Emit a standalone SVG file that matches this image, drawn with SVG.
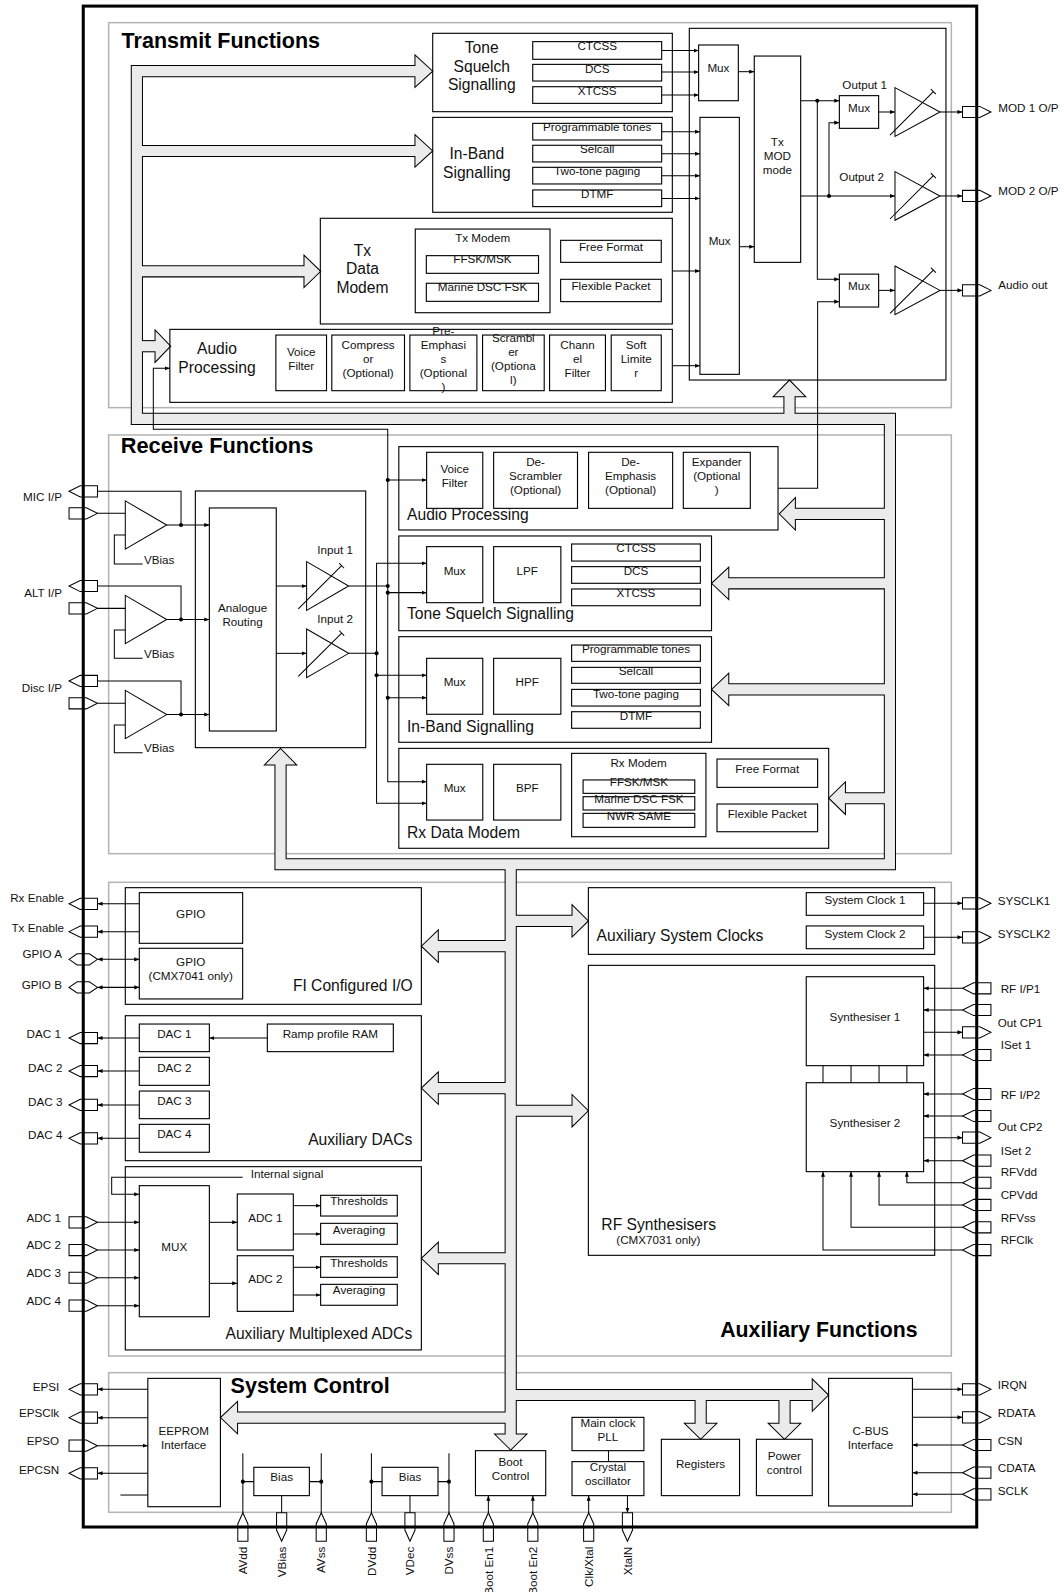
<svg xmlns="http://www.w3.org/2000/svg" width="1064" height="1592" viewBox="0 0 1064 1592">
<defs>
<style>
.sec{fill:none;stroke:#b4b4b4;stroke-width:1.5}
.bx{fill:none;stroke:#000;stroke-width:1.1}
.ln{fill:none;stroke:#000;stroke-width:1}
.ar{marker-end:url(#a)}
.ar2{marker-start:url(#a);marker-end:url(#a)}
.pin{fill:#fff;stroke:#000;stroke-width:1}
.amp{fill:#fff;stroke:#000;stroke-width:1}
.pk{fill:none;stroke:#000;stroke-width:12}
.pg{fill:none;stroke:#ebebeb;stroke-width:10}
.ph{fill:#ebebeb;stroke:#000;stroke-width:1}
.dot{fill:#000}
text{font-family:"Liberation Sans",Arial,Helvetica,sans-serif;font-size:11.5px;fill:#111}
.c{text-anchor:middle}
.e{text-anchor:end}
.L{font-size:15.4px}
.T{font-size:21px;font-weight:bold;fill:#000}
</style>
<marker id="a" viewBox="0 0 10 10" refX="10" refY="5" markerWidth="5" markerHeight="5" markerUnits="userSpaceOnUse" orient="auto-start-reverse"><path d="M0,1L10,5L0,9z" fill="#000"/></marker>
<path id="pR" d="M-14,-5.5H3L14,0L3,5.5H-14Z"/>
<path id="pL" d="M14,-5.5H-3L-14,0L-3,5.5H14Z"/>
<path id="pB" d="M-14,0L-6,-5.5H6L14,0L6,5.5H-6Z"/>
<path id="pU" d="M0,-14L5,-3V14H-5V-3Z"/>
<path id="pD" d="M-5,-14H5V3L0,14L-5,3Z"/>
</defs>
<rect width="1064" height="1592" fill="#fff"/>
<g transform="scale(1.0153)">

<g id="sections">
<rect class="sec" x="107" y="22.3" width="830" height="379.2"/>
<rect class="sec" x="107" y="428.4" width="830" height="412.4"/>
<rect class="sec" x="107" y="869" width="830" height="466.6"/>
<rect class="sec" x="107" y="1352" width="830" height="137.5"/>
<text class="T" x="119.8" y="47.6" textLength="195.4" lengthAdjust="spacingAndGlyphs">Transmit Functions</text>
<text class="T" x="118.9" y="445.9" textLength="189.7" lengthAdjust="spacingAndGlyphs">Receive Functions</text>
<text class="T" x="709.4" y="1316.5" textLength="194.4" lengthAdjust="spacingAndGlyphs">Auxiliary Functions</text>
<text class="T" x="227.1" y="1372.3" textLength="156.8" lengthAdjust="spacingAndGlyphs">System Control</text>
</g>

<g id="bus">
<g class="pk">
<path d="M408.7,70.1H134.8V412.5H876.5V851.2H276.3V753.5"/>
<path d="M134.8,148.7H408.7"/><path d="M134.8,267.2H299.4"/><path d="M134.8,341H152.7"/>
<path d="M777.6,412.5V390.7"/>
<path d="M876.5,506.1H783.4"/><path d="M876.5,574.5H717.8"/><path d="M876.5,679H717.8"/><path d="M876.5,786.2H832.7"/>
<path d="M503,851.2V1412.4"/>
<path d="M503,931.9H431.7"/><path d="M503,1071.7H431.7"/><path d="M503,1239.3H431.7"/>
<path d="M503,907H563.4"/><path d="M503,1094H563.4"/>
<path d="M503,1396.2H234"/><path d="M503,1374H800"/>
<path d="M690.1,1374V1401.9"/><path d="M772.7,1374V1401.9"/>
</g>
<g class="ph">
<polygon points="408.7,54.1 426.2,70.1 408.7,86.1"/>
<polygon points="408.7,132.7 426.2,148.7 408.7,164.7"/>
<polygon points="299.4,251.2 315.9,267.2 299.4,283.2"/>
<polygon points="152.7,325 168.1,341 152.7,357"/>
<polygon points="761.6,390.7 777.6,374.3 793.6,390.7"/>
<polygon points="260.3,753.5 276.3,737.1 292.3,753.5"/>
<polygon points="783.4,490.1 767.5,506.1 783.4,522.1"/>
<polygon points="717.8,558.5 700.8,574.5 717.8,590.5"/>
<polygon points="717.8,663 700.8,679 717.8,695"/>
<polygon points="832.7,770.2 816.2,786.2 832.7,802.2"/>
<polygon points="487,1412.4 503,1428.2 519,1412.4"/>
<polygon points="431.7,915.9 415,931.9 431.7,947.9"/>
<polygon points="431.7,1055.7 415,1071.7 431.7,1087.7"/>
<polygon points="431.7,1223.3 415,1239.3 431.7,1255.3"/>
<polygon points="563.4,891 579.5,907 563.4,923"/>
<polygon points="563.4,1078 579.5,1094 563.4,1110"/>
<polygon points="234,1380.2 217.1,1396.2 234,1412.2"/>
<polygon points="800,1358 816.1,1374 800,1390"/>
<polygon points="674.1,1401.9 690.1,1417.6 706.1,1401.9"/>
<polygon points="756.7,1401.9 772.7,1417.6 788.7,1401.9"/>
</g>
<g class="pg">
<path d="M410.2,70.1H134.8V412.5H876.5V851.2H276.3V752"/>
<path d="M134.8,148.7H410.2"/><path d="M134.8,267.2H300.9"/><path d="M134.8,341H154.2"/>
<path d="M777.6,412.5V389.2"/>
<path d="M876.5,506.1H781.9"/><path d="M876.5,574.5H716.3"/><path d="M876.5,679H716.3"/><path d="M876.5,786.2H831.2"/>
<path d="M503,851.2V1413.9"/>
<path d="M503,931.9H430.2"/><path d="M503,1071.7H430.2"/><path d="M503,1239.3H430.2"/>
<path d="M503,907H564.9"/><path d="M503,1094H564.9"/>
<path d="M503,1396.2H232.5"/><path d="M503,1374H801.5"/>
<path d="M690.1,1374V1403.4"/><path d="M772.7,1374V1403.4"/>
</g>
</g>

<g id="tx-tone">
<rect class="bx" x="426.2" y="32.8" width="236" height="77.2"/>
<rect class="bx" x="524.7" y="41" width="127" height="17.4"/>
<rect class="bx" x="524.7" y="63.4" width="127" height="16.4"/>
<rect class="bx" x="524.7" y="85.4" width="127" height="16.4"/>
<text class="L c" x="474.5" y="52.4">Tone</text>
<text class="L c" x="474.5" y="71.1">Squelch</text>
<text class="L c" x="474.5" y="89.1">Signalling</text>
<text class="c" x="588.2" y="49.4">CTCSS</text>
<text class="c" x="588.2" y="71.8">DCS</text>
<text class="c" x="588.2" y="93.8">XTCSS</text>
</g>

<g id="tx-inband">
<rect class="bx" x="426.2" y="115.6" width="236" height="93.5"/>
<rect class="bx" x="524.7" y="121.5" width="127" height="16.4"/>
<rect class="bx" x="524.7" y="143.1" width="127" height="16.4"/>
<rect class="bx" x="524.7" y="164.8" width="127" height="16.4"/>
<rect class="bx" x="524.7" y="187.1" width="127" height="16.4"/>
<text class="L c" x="469.7" y="156.4">In-Band</text>
<text class="L c" x="469.7" y="175.4">Signalling</text>
<text class="c" x="588.2" y="129.5">Programmable tones</text>
<text class="c" x="588.2" y="151.1">Selcall</text>
<text class="c" x="588.2" y="172.8">Two-tone paging</text>
<text class="c" x="588.2" y="195.1">DTMF</text>
</g>

<g id="tx-modem">
<rect class="bx" x="315.5" y="215" width="346.7" height="104.1"/>
<rect class="bx" x="409" y="225.6" width="132.7" height="82.4"/>
<rect class="bx" x="419.9" y="251.8" width="110.5" height="17.4"/>
<rect class="bx" x="419.9" y="279" width="110.5" height="17.8"/>
<rect class="bx" x="552.2" y="236.7" width="99.1" height="21.7"/>
<rect class="bx" x="552.2" y="275.1" width="99.1" height="22"/>
<text class="L c" x="357" y="252.3">Tx</text>
<text class="L c" x="357" y="269.7">Data</text>
<text class="L c" x="357" y="288.4">Modem</text>
<text class="c" x="475.4" y="238.2">Tx Modem</text>
<text class="c" x="475.2" y="259.5">FFSK/MSK</text>
<text class="c" x="475.2" y="287.1">Marine DSC FSK</text>
<text class="c" x="601.8" y="247.4">Free Format</text>
<text class="c" x="601.8" y="285.8">Flexible Packet</text>
</g>

<g id="tx-audio">
<rect class="bx" x="167.3" y="324.4" width="494.9" height="71.9"/>
<rect class="bx" x="271.7" y="330" width="49.9" height="54.8"/>
<rect class="bx" x="326.8" y="330" width="71.6" height="54.8"/>
<rect class="bx" x="403.7" y="330" width="66" height="54.8"/>
<rect class="bx" x="475.3" y="330" width="60.7" height="54.8"/>
<rect class="bx" x="541.3" y="330" width="55" height="54.8"/>
<rect class="bx" x="602" y="330" width="49.3" height="54.8"/>
<text class="L c" x="213.7" y="348.5">Audio</text>
<text class="L c" x="213.7" y="367.5">Processing</text>
<text class="c" x="296.7" y="350.4">Voice</text>
<text class="c" x="296.7" y="364.1">Filter</text>
<text class="c" x="362.6" y="343.7">Compress</text>
<text class="c" x="362.6" y="357.4">or</text>
<text class="c" x="362.6" y="371.1">(Optional)</text>
<text class="c" x="436.7" y="330">Pre-</text>
<text class="c" x="436.7" y="343.7">Emphasi</text>
<text class="c" x="436.7" y="357.4">s</text>
<text class="c" x="436.7" y="371.1">(Optional</text>
<text class="c" x="436.7" y="384.8">)</text>
<text class="c" x="505.6" y="336.7">Scrambl</text>
<text class="c" x="505.6" y="350.4">er</text>
<text class="c" x="505.6" y="364.1">(Optiona</text>
<text class="c" x="505.6" y="377.8">l)</text>
<text class="c" x="568.8" y="343.7">Chann</text>
<text class="c" x="568.8" y="357.4">el</text>
<text class="c" x="568.8" y="371.1">Filter</text>
<text class="c" x="626.6" y="343.7">Soft</text>
<text class="c" x="626.6" y="357.4">Limite</text>
<text class="c" x="626.6" y="371.1">r</text>
</g>

<g id="tx-output">
<rect class="bx" x="678.9" y="27.9" width="252.8" height="346.4"/>
<rect class="bx" x="688.1" y="44.3" width="39.1" height="54.9"/>
<rect class="bx" x="689.4" y="115.6" width="38.8" height="253.1"/>
<rect class="bx" x="742.9" y="55.2" width="45.7" height="203.2"/>
<rect class="bx" x="826.7" y="94.2" width="38.7" height="32.2"/>
<rect class="bx" x="826.7" y="270" width="38.7" height="32.4"/>
<text class="c" x="707.6" y="71.4">Mux</text>
<text class="c" x="708.8" y="241.1">Mux</text>
<text class="c" x="765.6" y="143.6">Tx</text>
<text class="c" x="765.6" y="157.1">MOD</text>
<text class="c" x="765.6" y="170.9">mode</text>
<text class="c" x="846.1" y="110.1">Mux</text>
<text class="c" x="846.1" y="285.5">Mux</text>
<text class="c" x="851.7" y="87.8">Output 1</text>
<text class="c" x="848.7" y="178.1">Output 2</text>
<polygon class="amp" points="881.5,86.3 925.8,110.3 881.5,134.3"/>
<polygon class="amp" points="881.5,169 925.8,193 881.5,217"/>
<polygon class="amp" points="881.5,262 925.8,286 881.5,310"/>
<path class="ln" d="M876.6,133L919.3,90.3M916.8,87.8L921.8,92.8M876.6,215.7L919.3,173M916.8,170.5L921.8,175.5M876.6,308.7L919.3,266M916.8,263.5L921.8,268.5"/>
</g>

<g id="rx-audio">
<rect class="bx" x="392.8" y="439.9" width="373.5" height="82.1"/>
<rect class="bx" x="420.2" y="445.5" width="55.3" height="55.2"/>
<rect class="bx" x="486.2" y="445.5" width="82.6" height="55.2"/>
<rect class="bx" x="579.7" y="445.5" width="82.8" height="55.2"/>
<rect class="bx" x="673" y="445.5" width="66" height="55.2"/>
<text class="c" x="447.8" y="466">Voice</text>
<text class="c" x="447.8" y="479.5">Filter</text>
<text class="c" x="527.5" y="458.8">De-</text>
<text class="c" x="527.5" y="472.9">Scrambler</text>
<text class="c" x="527.5" y="486.7">(Optional)</text>
<text class="c" x="621.1" y="458.8">De-</text>
<text class="c" x="621.1" y="472.9">Emphasis</text>
<text class="c" x="621.1" y="486.7">(Optional)</text>
<text class="c" x="706" y="458.8">Expander</text>
<text class="c" x="706" y="472.9">(Optional</text>
<text class="c" x="706" y="486.7">)</text>
<text class="L" x="400.9" y="512.6">Audio Processing</text>
</g>

<g id="rx-tone">
<rect class="bx" x="392.8" y="527.9" width="308" height="93.3"/>
<rect class="bx" x="420.2" y="538.4" width="55.3" height="55.2"/>
<rect class="bx" x="486.2" y="538.4" width="66.2" height="55.2"/>
<rect class="bx" x="563" y="535.8" width="126.8" height="16.8"/>
<rect class="bx" x="563" y="558.1" width="126.8" height="16.4"/>
<rect class="bx" x="563" y="580.1" width="126.8" height="16.5"/>
<text class="c" x="447.8" y="566.5">Mux</text>
<text class="c" x="519.3" y="566.5">LPF</text>
<text class="c" x="626.4" y="543.5">CTCSS</text>
<text class="c" x="626.4" y="566.5">DCS</text>
<text class="c" x="626.4" y="587.8">XTCSS</text>
<text class="L" x="400.9" y="609.5">Tone Squelch Signalling</text>
</g>

<g id="rx-inband">
<rect class="bx" x="392.8" y="627.1" width="308" height="104"/>
<rect class="bx" x="420.2" y="648.4" width="55.3" height="55.1"/>
<rect class="bx" x="486.2" y="648.4" width="66.2" height="55.1"/>
<rect class="bx" x="563" y="635.3" width="126.8" height="16.1"/>
<rect class="bx" x="563" y="657.3" width="126.8" height="15.7"/>
<rect class="bx" x="563" y="679" width="126.8" height="16.4"/>
<rect class="bx" x="563" y="701" width="126.8" height="16.3"/>
<text class="c" x="447.8" y="675.8">Mux</text>
<text class="c" x="519.3" y="675.8">HPF</text>
<text class="c" x="626.4" y="643.3">Programmable tones</text>
<text class="c" x="626.4" y="665">Selcall</text>
<text class="c" x="626.4" y="687">Two-tone paging</text>
<text class="c" x="626.4" y="709">DTMF</text>
<text class="L" x="400.9" y="721.1">In-Band Signalling</text>
</g>

<g id="rx-modem">
<rect class="bx" x="392.8" y="737.1" width="423.4" height="98.4"/>
<rect class="bx" x="420.2" y="752.8" width="55.3" height="54.9"/>
<rect class="bx" x="486.2" y="752.8" width="66.2" height="54.9"/>
<rect class="bx" x="563" y="742" width="132.3" height="82.1"/>
<rect class="bx" x="574.3" y="768.2" width="110" height="13.2"/>
<rect class="bx" x="574.3" y="784.7" width="110" height="13.1"/>
<rect class="bx" x="574.3" y="801.1" width="110" height="13.8"/>
<rect class="bx" x="706.2" y="747.6" width="99.1" height="27.9"/>
<rect class="bx" x="706.2" y="791.9" width="99.1" height="27.3"/>
<text class="c" x="447.8" y="779.9">Mux</text>
<text class="c" x="519.3" y="779.9">BPF</text>
<text class="c" x="629" y="755.3">Rx Modem</text>
<text class="c" x="629.3" y="774">FFSK/MSK</text>
<text class="c" x="629.3" y="791.1">Marine DSC FSK</text>
<text class="c" x="629.3" y="807.8">NWR SAME</text>
<text class="c" x="755.7" y="761.5">Free Format</text>
<text class="c" x="755.7" y="805.2">Flexible Packet</text>
<text class="L" x="400.9" y="825.5">Rx Data Modem</text>
</g>

<g id="rx-input">
<rect class="bx" x="192.4" y="483.6" width="167.8" height="252.8"/>
<rect class="bx" x="206.2" y="500.3" width="65.9" height="219.7"/>
<text class="c" x="238.9" y="602.9">Analogue</text>
<text class="c" x="238.9" y="616.7">Routing</text>
<text class="c" x="330" y="545.8">Input 1</text>
<text class="c" x="330" y="613.8">Input 2</text>
<polygon class="amp" points="302,553.2 343.4,577.2 302,601.2"/>
<polygon class="amp" points="302,619.5 343.4,643.5 302,667.5"/>
<path class="ln" d="M293.8,599.8L336.5,557.2M334,554.7L339,559.7M293.8,666.1L336.5,623.5M334,621L339,626"/>
<polygon class="amp" points="123.4,493.3 164.2,517.1 123.4,540.9"/>
<polygon class="amp" points="123.4,586.4 164.2,610.2 123.4,634"/>
<polygon class="amp" points="123.4,680 164.2,703.8 123.4,727.6"/>
<text x="141.8" y="555.7">VBias</text>
<text x="141.8" y="648.5">VBias</text>
<text x="141.8" y="741">VBias</text>
</g>

<g id="aux-io">
<rect class="bx" x="123.4" y="874.3" width="291.6" height="114.9"/>
<rect class="bx" x="137.2" y="879.2" width="101.8" height="49.9"/>
<rect class="bx" x="137.2" y="934" width="101.8" height="49.9"/>
<text class="c" x="187.8" y="903.7">GPIO</text>
<text class="c" x="187.8" y="951.3">GPIO</text>
<text class="c" x="187.8" y="965.4">(CMX7041 only)</text>
<text class="L e" x="406.5" y="976.2">FI Configured I/O</text>
</g>

<g id="aux-dacs">
<rect class="bx" x="123.4" y="1000.4" width="291.6" height="142.8"/>
<rect class="bx" x="137.2" y="1008.6" width="69" height="27.2"/>
<rect class="bx" x="137.2" y="1041.4" width="69" height="27.6"/>
<rect class="bx" x="137.2" y="1074.6" width="69" height="27.2"/>
<rect class="bx" x="137.2" y="1107.4" width="69" height="27.5"/>
<rect class="bx" x="263.3" y="1008.6" width="124.1" height="27.2"/>
<text class="c" x="171.7" y="1022.5">DAC 1</text>
<text class="c" x="171.7" y="1055.4">DAC 2</text>
<text class="c" x="171.7" y="1088.5">DAC 3</text>
<text class="c" x="171.7" y="1121">DAC 4</text>
<text class="c" x="325.3" y="1022.5">Ramp profile RAM</text>
<text class="L e" x="406.1" y="1128.2">Auxiliary DACs</text>
</g>

<g id="aux-adcs">
<rect class="bx" x="123.4" y="1149.1" width="291.6" height="180.5"/>
<rect class="bx" x="137.2" y="1167.8" width="69" height="129.1"/>
<rect class="bx" x="233.7" y="1176" width="55.2" height="55.2"/>
<rect class="bx" x="233.7" y="1236.8" width="55.2" height="54.8"/>
<rect class="bx" x="315.8" y="1177.3" width="75.5" height="20.4"/>
<rect class="bx" x="315.8" y="1204.9" width="75.5" height="20.7"/>
<rect class="bx" x="315.8" y="1237.8" width="75.5" height="20.3"/>
<rect class="bx" x="315.8" y="1265" width="75.5" height="20.6"/>
<text x="246.9" y="1160.7">Internal signal</text>
<text class="c" x="171.7" y="1232">MUX</text>
<text class="c" x="261.3" y="1203.4">ADC 1</text>
<text class="c" x="261.3" y="1263.8">ADC 2</text>
<text class="c" x="353.6" y="1187">Thresholds</text>
<text class="c" x="353.6" y="1215.6">Averaging</text>
<text class="c" x="353.6" y="1247.7">Thresholds</text>
<text class="c" x="353.6" y="1274.7">Averaging</text>
<text class="L e" x="406" y="1318.6">Auxiliary Multiplexed ADCs</text>
</g>

<g id="aux-clocks">
<rect class="bx" x="579.5" y="874.3" width="341.1" height="65.7"/>
<rect class="bx" x="794.1" y="879.2" width="115.6" height="22.3"/>
<rect class="bx" x="794.1" y="912" width="115.6" height="22.4"/>
<text class="c" x="851.9" y="890.5">System Clock 1</text>
<text class="c" x="851.9" y="923.4">System Clock 2</text>
<text class="L" x="587.6" y="927.3">Auxiliary System Clocks</text>
</g>

<g id="rf-synth">
<rect class="bx" x="579.5" y="950.8" width="341.1" height="285.6"/>
<rect class="bx" x="794.1" y="962" width="115.6" height="87.6"/>
<rect class="bx" x="794.1" y="1066.4" width="115.6" height="87.6"/>
<path class="ln" d="M810.6,1049.6V1066.4M838.2,1049.6V1066.4M865.8,1049.6V1066.4M893.2,1049.6V1066.4"/>
<text class="c" x="851.9" y="1005.4">Synthesiser 1</text>
<text class="c" x="851.9" y="1109.9">Synthesiser 2</text>
<text class="L" x="592.3" y="1211.9">RF Synthesisers</text>
<text x="607" y="1225.7">(CMX7031 only)</text>
</g>

<g id="sys-eeprom">
<rect class="bx" x="145.6" y="1357.6" width="71.5" height="126.4"/>
<text class="c" x="180.9" y="1413.2">EEPROM</text>
<text class="c" x="180.9" y="1427.3">Interface</text>
</g>
<g id="sys-bias">
<rect class="bx" x="250" y="1445.2" width="54.7" height="27.9"/>
<rect class="bx" x="376.3" y="1445.2" width="55.1" height="27.9"/>
<text class="c" x="277.4" y="1458.5">Bias</text>
<text class="c" x="403.8" y="1458.5">Bias</text>
</g>
<g id="sys-boot">
<rect class="bx" x="468.3" y="1428.8" width="69.2" height="44.3"/>
<text class="c" x="502.9" y="1443.7">Boot</text>
<text class="c" x="502.9" y="1457.5">Control</text>
</g>
<g id="sys-clock">
<rect class="bx" x="563.4" y="1396" width="70.8" height="32.8"/>
<rect class="bx" x="563.4" y="1439.6" width="70.8" height="33.5"/>
<path class="ln" d="M599.3,1428.8V1439.6"/>
<text class="c" x="598.8" y="1405.4">Main clock</text>
<text class="c" x="598.8" y="1419.1">PLL</text>
<text class="c" x="598.8" y="1448.7">Crystal</text>
<text class="c" x="598.8" y="1462.8">oscillator</text>
</g>
<g id="sys-registers">
<rect class="bx" x="651.4" y="1417.6" width="77" height="55.5"/>
<text class="c" x="690" y="1445.4">Registers</text>
</g>
<g id="sys-power">
<rect class="bx" x="745" y="1417.6" width="55" height="55.5"/>
<text class="c" x="772.5" y="1438.2">Power</text>
<text class="c" x="772.5" y="1451.9">control</text>
</g>
<g id="sys-cbus">
<rect class="bx" x="816.1" y="1357.6" width="82.6" height="125.7"/>
<text class="c" x="857.4" y="1413.6">C-BUS</text>
<text class="c" x="857.4" y="1427.3">Interface</text>
</g>

<g id="connectors">
<g class="ln ar">
<path d="M651.7,49.8H688.1"/><path d="M651.7,71H688.1"/><path d="M651.7,93.6H688.1"/>
<path d="M651.7,129.7H689.4"/><path d="M651.7,151.4H689.4"/><path d="M651.7,173H689.4"/><path d="M651.7,195.4H689.4"/>
<path d="M662.2,266.9H689.4"/><path d="M662.2,360.2H689.4"/>
<path d="M727.2,70.6H742.9"/><path d="M728.2,243H742.9"/>
<path d="M788.6,99.2H826.7"/><path d="M805,99.2V275.1H826.7"/>
<path d="M788.6,193H881.5"/><path d="M816.5,193V120.8H826.7"/>
<path d="M865.4,110.3H881.5"/><path d="M865.4,286H881.5"/>
<path d="M925.8,110.3H948"/><path d="M925.8,193H948"/><path d="M925.8,286H948"/>
<path d="M766.3,481H805.3V297.1H826.7"/>
<path d="M164.2,517.1H206.2"/><path d="M164.2,610.2H206.2"/><path d="M164.2,703.8H206.2"/>
<path d="M272.1,577.2H302"/><path d="M272.1,643.5H302"/>
<path d="M381.9,472.8H420.2"/><path d="M381.9,583.7H420.2"/><path d="M381.9,687.2H420.2"/><path d="M370.9,665.1H420.2"/>
<path d="M137.2,890.2H96"/><path d="M137.2,917.6H96"/>
<path d="M137.2,1022.4H96"/><path d="M137.2,1054.9H96"/><path d="M137.2,1088.3H96"/><path d="M137.2,1121.2H96"/>
<path d="M263.3,1022.4H206.2"/>
<path d="M239,1159.6H110V1176.3H137.2"/>
<path d="M96,1203.9H137.2"/><path d="M96,1231.2H137.2"/><path d="M96,1258.5H137.2"/><path d="M96,1286H137.2"/>
<path d="M206.2,1203.9H233.7"/><path d="M206.2,1264H233.7"/>
<path d="M288.9,1187.5H315.8"/><path d="M288.9,1215.4H315.8"/><path d="M288.9,1248.2H315.8"/><path d="M288.9,1275.5H315.8"/>
<path d="M909.7,889.7H948"/><path d="M909.7,923.2H948"/>
<path d="M948,973.4H909.7"/><path d="M948,994.8H909.7"/><path d="M909.7,1016.8H948"/><path d="M948,1039.1H909.7"/>
<path d="M948,1077.5H909.7"/><path d="M948,1099.2H909.7"/><path d="M909.7,1120.5H948"/><path d="M948,1143.2H909.7"/>
<path d="M948,1164.9H893.2V1154"/><path d="M948,1186.8H865.8V1154"/><path d="M948,1208.8H838.2V1154"/><path d="M948,1231.2H810.6V1154"/>
<path d="M145.6,1368.4H96"/><path d="M145.6,1396.3H96"/><path d="M96,1423.9H145.6"/><path d="M145.6,1451.1H96"/>
<path d="M898.7,1368.4H948"/><path d="M898.7,1396H948"/><path d="M948,1423.2H898.7"/><path d="M948,1450.5H898.7"/><path d="M948,1471.8H898.7"/>
<path d="M481,1490V1473.1"/><path d="M524.8,1490V1473.1"/><path d="M579.8,1490V1473.1"/><path d="M618,1473.1V1490"/>
</g>
<g class="ln ar2">
<path d="M420.2,769.9H381.9V422.8H151V362.8H167.3"/>
<path d="M420.2,554.8H370.9V791.2H420.2"/>
<path d="M96,944.9H137.2"/><path d="M96,972.5H137.2"/>
</g>
<g class="ln">
<path d="M96,483.9H178.3V517.1M96,505.6H123.4M123.4,526.9H112.6V555.5H140.5"/>
<path d="M96,577.2H178.3V610.2M96,599.2H123.4M123.4,620.5H112.6V648.4H140.5"/>
<path d="M96,670.7H178.3V703.8M96,692.7H123.4M123.4,714.1H112.6V741.3H140.5"/>
<path d="M343.4,577.2H381.9M343.4,643.5H370.9"/>
<path d="M118.6,1472.5H145.6"/>
<path d="M239.2,1490V1431.4M239.2,1459.3H250M316.4,1490V1431.4M304.7,1459.3H316.4M277.4,1473.1V1490"/>
<path d="M365.8,1490V1431.4M365.8,1459.3H376.3M442.2,1490V1431.4M431.4,1459.3H442.2M403.8,1473.1V1490"/>
</g>
<g class="dot">
<circle cx="805" cy="99.2" r="2"/><circle cx="816.5" cy="193" r="2"/>
<circle cx="178.3" cy="517.1" r="2"/><circle cx="178.3" cy="610.2" r="2"/><circle cx="178.3" cy="703.8" r="2"/>
<circle cx="381.9" cy="472.8" r="2"/><circle cx="381.9" cy="577.2" r="2"/><circle cx="381.9" cy="583.7" r="2"/><circle cx="381.9" cy="687.2" r="2"/>
<circle cx="370.9" cy="643.5" r="2"/><circle cx="370.9" cy="665.1" r="2"/>
<circle cx="239.2" cy="1459.3" r="2"/><circle cx="316.4" cy="1459.3" r="2"/><circle cx="365.8" cy="1459.3" r="2"/><circle cx="442.2" cy="1459.3" r="2"/>
</g>
</g>

<g id="pins" class="pin">
<use href="#pL" x="82" y="483.9"/><use href="#pR" x="82" y="505.6"/>
<use href="#pL" x="82" y="577.2"/><use href="#pR" x="82" y="599.2"/>
<use href="#pL" x="82" y="670.7"/><use href="#pR" x="82" y="692.7"/>
<use href="#pL" x="82" y="890.2"/><use href="#pL" x="82" y="917.6"/>
<use href="#pB" x="82" y="944.9"/><use href="#pB" x="82" y="972.5"/>
<use href="#pL" x="82" y="1022.4"/><use href="#pL" x="82" y="1054.9"/><use href="#pL" x="82" y="1088.3"/><use href="#pL" x="82" y="1121.2"/>
<use href="#pR" x="82" y="1203.9"/><use href="#pR" x="82" y="1231.2"/><use href="#pR" x="82" y="1258.5"/><use href="#pR" x="82" y="1286"/>
<use href="#pL" x="82" y="1368.4"/><use href="#pL" x="82" y="1396.3"/><use href="#pR" x="82" y="1423.9"/><use href="#pL" x="82" y="1451.1"/>
<use href="#pR" x="962" y="110.3"/><use href="#pR" x="962" y="193"/><use href="#pR" x="962" y="286"/>
<use href="#pR" x="962" y="889.7"/><use href="#pR" x="962" y="923.2"/>
<use href="#pL" x="962" y="973.4"/><use href="#pL" x="962" y="994.8"/><use href="#pR" x="962" y="1016.8"/><use href="#pL" x="962" y="1039.1"/>
<use href="#pL" x="962" y="1077.5"/><use href="#pL" x="962" y="1099.2"/><use href="#pR" x="962" y="1120.5"/><use href="#pL" x="962" y="1143.2"/>
<use href="#pL" x="962" y="1164.9"/><use href="#pL" x="962" y="1186.8"/><use href="#pL" x="962" y="1208.8"/><use href="#pL" x="962" y="1231.2"/>
<use href="#pR" x="962" y="1368.4"/><use href="#pR" x="962" y="1396"/><use href="#pL" x="962" y="1423.2"/><use href="#pL" x="962" y="1450.5"/><use href="#pL" x="962" y="1471.8"/>
<use href="#pU" x="239.2" y="1504"/><use href="#pD" x="277.4" y="1504"/><use href="#pU" x="316.4" y="1504"/>
<use href="#pU" x="365.8" y="1504"/><use href="#pD" x="403.8" y="1504"/><use href="#pU" x="442.2" y="1504"/>
<use href="#pU" x="481" y="1504"/><use href="#pU" x="524.8" y="1504"/><use href="#pU" x="579.8" y="1504"/><use href="#pD" x="618" y="1504"/>
</g>

<rect id="chip" x="82" y="6" width="880" height="1498" fill="none" stroke="#000" stroke-width="3"/>

<g id="pin-labels">
<text class="e" x="61" y="493.3">MIC I/P</text>
<text class="e" x="61" y="587.8">ALT I/P</text>
<text class="e" x="61" y="681.1">Disc I/P</text>
<text class="e" x="63" y="888.3">Rx Enable</text>
<text class="e" x="63" y="917.8">Tx Enable</text>
<text class="e" x="61" y="943.7">GPIO A</text>
<text class="e" x="61" y="974.3">GPIO B</text>
<text class="e" x="60" y="1022.5">DAC 1</text>
<text class="e" x="61.5" y="1056.3">DAC 2</text>
<text class="e" x="61.5" y="1089.1">DAC 3</text>
<text class="e" x="61.5" y="1122">DAC 4</text>
<text class="e" x="60" y="1203.4">ADC 1</text>
<text class="e" x="60" y="1230.3">ADC 2</text>
<text class="e" x="60" y="1257.6">ADC 3</text>
<text class="e" x="60" y="1285.5">ADC 4</text>
<text class="e" x="58.3" y="1369.9">EPSI</text>
<text class="e" x="58.3" y="1395.5">EPSClk</text>
<text class="e" x="58.3" y="1423.4">EPSO</text>
<text class="e" x="58.3" y="1452">EPCSN</text>
<text x="983.3" y="110.8">MOD 1 O/P</text>
<text x="983.3" y="192.1">MOD 2 O/P</text>
<text x="983.3" y="284.8">Audio out</text>
<text x="982.7" y="891.5">SYSCLK1</text>
<text x="982.7" y="923.4">SYSCLK2</text>
<text x="985.6" y="978.2">RF I/P1</text>
<text x="982.7" y="1011.3">Out CP1</text>
<text x="985.6" y="1033.4">ISet 1</text>
<text x="985.6" y="1082.6">RF I/P2</text>
<text x="982.7" y="1114.4">Out CP2</text>
<text x="985.6" y="1137.4">ISet 2</text>
<text x="985.6" y="1158.7">RFVdd</text>
<text x="985.6" y="1181.1">CPVdd</text>
<text x="985.6" y="1203.4">RFVss</text>
<text x="985.6" y="1225.4">RFClk</text>
<text x="982.7" y="1368.2">IRQN</text>
<text x="982.7" y="1395.5">RDATA</text>
<text x="982.7" y="1423.4">CSN</text>
<text x="982.7" y="1450.3">CDATA</text>
<text x="982.7" y="1472.3">SCLK</text>
<text class="e" transform="translate(243.3,1523.4) rotate(-90)">AVdd</text>
<text class="e" transform="translate(281.5,1523.4) rotate(-90)">VBias</text>
<text class="e" transform="translate(320.5,1523.4) rotate(-90)">AVss</text>
<text class="e" transform="translate(369.9,1523.4) rotate(-90)">DVdd</text>
<text class="e" transform="translate(407.9,1523.4) rotate(-90)">VDec</text>
<text class="e" transform="translate(446.3,1523.4) rotate(-90)">DVss</text>
<text class="e" transform="translate(485.1,1523.4) rotate(-90)">Boot En1</text>
<text class="e" transform="translate(528.9,1523.4) rotate(-90)">Boot En2</text>
<text class="e" transform="translate(583.9,1523.4) rotate(-90)">Clk/Xtal</text>
<text class="e" transform="translate(622.1,1523.4) rotate(-90)">XtalN</text>
</g>
</g>
</svg>
